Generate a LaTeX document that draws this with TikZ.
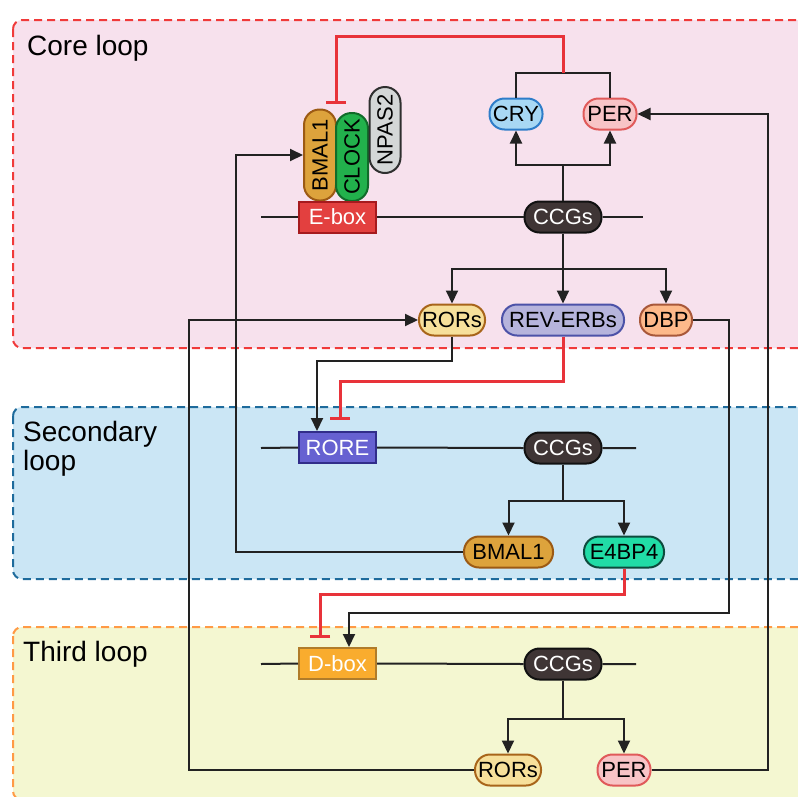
\documentclass[tikz,border=0pt]{standalone}
\usepackage{fontspec}
\setmainfont{Liberation Sans}
\usepackage{graphicx}
\usetikzlibrary{arrows.meta}

\definecolor{lineblack}{HTML}{222222}
\definecolor{inhred}{HTML}{E8333A}
\definecolor{corefill}{HTML}{F7E1ED}
\definecolor{coreedge}{HTML}{F03A3A}
\definecolor{secfill}{HTML}{CBE6F5}
\definecolor{secedge}{HTML}{1E6B9C}
\definecolor{thirdfill}{HTML}{F4F7D1}
\definecolor{thirdedge}{HTML}{FF9A45}
\definecolor{cryfill}{HTML}{A8D8F4}
\definecolor{cryedge}{HTML}{2E7DC9}
\definecolor{perfill}{HTML}{F8C4C6}
\definecolor{peredge}{HTML}{E05A5A}
\definecolor{bmalfill}{HTML}{DDA33C}
\definecolor{bmaledge}{HTML}{9C5A14}
\definecolor{clockfill}{HTML}{22B14C}
\definecolor{clockedge}{HTML}{116B2A}
\definecolor{npasfill}{HTML}{D4D7D7}
\definecolor{npasedge}{HTML}{2F2F2F}
\definecolor{eboxfill}{HTML}{E3403F}
\definecolor{eboxedge}{HTML}{A61A1E}
\definecolor{ccgfill}{HTML}{3F3535}
\definecolor{ccgedge}{HTML}{111111}
\definecolor{rorfill}{HTML}{F7E09B}
\definecolor{roredge}{HTML}{A8651A}
\definecolor{revfill}{HTML}{B6B4DC}
\definecolor{revedge}{HTML}{4C52A8}
\definecolor{dbpfill}{HTML}{FDB98A}
\definecolor{dbpedge}{HTML}{A8583A}
\definecolor{rorefill}{HTML}{6661D1}
\definecolor{roreedge}{HTML}{312D8A}
\definecolor{efourfill}{HTML}{21DCA6}
\definecolor{efouredge}{HTML}{0D4B3D}
\definecolor{dboxfill}{HTML}{F9AC2E}
\definecolor{dboxedge}{HTML}{B07C2A}

\newcommand\genefont{\fontsize{22}{24}\selectfont}
\newcommand\loopfont{\fontsize{28}{29}\selectfont}

\begin{document}
\begin{tikzpicture}[x=1pt,y=-1pt,
  conn/.style={line width=2pt, draw=lineblack},
  act/.style={conn, -{Triangle[length=13pt,width=12pt]}},
  inh/.style={line width=3pt, draw=inhred, -{Bar[width=20pt]}},
  region/.style={line width=2pt, dash pattern=on 8pt off 5pt, rounded corners=9pt},
  pill/.style={draw, line width=2pt, rounded corners=15pt, inner sep=0pt,
               minimum height=31pt, font=\genefont},
  vpill/.style={draw, line width=2pt, rounded corners=15.5pt, inner sep=0pt,
                minimum width=32pt, font=\genefont},
  site/.style={draw, line width=2pt, inner sep=0pt, minimum width=77pt,
               minimum height=31pt, font=\genefont, text=white},
  ccg/.style={pill, fill=ccgfill, draw=ccgedge, text=white, minimum width=77pt},
  looplabel/.style={inner sep=0pt, font=\loopfont, align=left}]

\useasboundingbox (0,0) rectangle (798,796);

% loop regions
\draw[region, draw=coreedge, fill=corefill] (13,20) rectangle (815,348);
\draw[region, draw=secedge, fill=secfill] (13,407) rectangle (815,579);
\draw[region, draw=thirdedge, fill=thirdfill] (13,627) rectangle (815,800);

\node[looplabel, anchor=base west] (corelbl) at (27,55) {Core loop};
\node[looplabel, anchor=north west] (seclbl) at (23,421) {Secondary\\loop};
\node[looplabel, anchor=base west] (thirdlbl) at (23,661) {Third loop};

% core loop
\node[pill, fill=cryfill, draw=cryedge, minimum width=53pt] (CRY) at (516,114) {CRY};
\node[pill, fill=perfill, draw=peredge, minimum width=53pt] (PERa) at (610,114) {PER};
\node[vpill, fill=bmalfill, draw=bmaledge, minimum height=91pt] (BMALa) at (320,155) {\rotatebox{90}{BMAL1}};
\node[vpill, fill=clockfill, draw=clockedge, minimum height=88pt] (CLOCK) at (352,157) {\rotatebox{90}{CLOCK}};
\node[vpill, fill=npasfill, draw=npasedge, minimum height=86pt, minimum width=31pt] (NPAS) at (385,130) {\rotatebox{90}{NPAS2}};
\node[site, fill=eboxfill, draw=eboxedge] (Ebox) at (337.5,217) {E-box};
\node[ccg] (CCGa) at (563,217) {CCGs};
\node[pill, fill=rorfill, draw=roredge, minimum width=66pt] (RORa) at (452,320) {RORs};
\node[pill, fill=revfill, draw=revedge, minimum width=122pt] (REV) at (563,320) {REV-ERBs};
\node[pill, fill=dbpfill, draw=dbpedge, minimum width=52pt] (DBP) at (666,320) {DBP};

% secondary loop
\node[site, fill=rorefill, draw=roreedge] (RORE) at (337.5,447.5) {RORE};
\node[ccg] (CCGb) at (563,448) {CCGs};
\node[pill, fill=bmalfill, draw=bmaledge, minimum width=89pt] (BMALb) at (508.5,552) {BMAL1};
\node[pill, fill=efourfill, draw=efouredge, minimum width=80pt] (EFOUR) at (624,552) {E4BP4};

% third loop
\node[site, fill=dboxfill, draw=dboxedge] (Dbox) at (337.5,663.5) {D-box};
\node[ccg] (CCGc) at (563,664) {CCGs};
\node[pill, fill=rorfill, draw=roredge, minimum width=66pt] (RORb) at (508,770) {RORs};
\node[pill, fill=perfill, draw=peredge, minimum width=53pt] (PERb) at (624,770) {PER};

% DNA strands
\coordinate (dnaLa) at (261,217);
\coordinate (dnaRa) at (643,217);
\coordinate (dnaLb) at (261,448);
\coordinate (dnaRb) at (636,448);
\coordinate (dnaLc) at (261,664);
\coordinate (dnaRc) at (636,664);
\draw[conn] (dnaLa) -- (Ebox.west) (Ebox.east) -- (CCGa.west) (CCGa.east) -- (dnaRa);
\draw[conn] (dnaLb) -- (RORE.west) (RORE.east) -- (CCGb.west) (CCGb.east) -- (dnaRb);
\draw[conn] (dnaLc) -- (Dbox.west) (Dbox.east) -- (CCGc.west) (CCGc.east) -- (dnaRc);

% bend points
\coordinate (crypair) at (563,73);
\coordinate (crytop) at (563,36);
\coordinate (ebind) at (336,104);
\coordinate (splitA) at (563,165);
\coordinate (splitB) at (563,269);
\coordinate (splitC) at (563,501);
\coordinate (splitD) at (563,719);
\coordinate (perback) at (768,114);
\coordinate (bmalback) at (236,155);
\coordinate (rorback) at (189,320);
\coordinate (rorebend) at (317,361);
\coordinate (revbend) at (340,381);
\coordinate (revbar) at (340,420);
\coordinate (efourbend) at (320,594);
\coordinate (efourbar) at (320,638);
\coordinate (dbpbend) at (729,613);
\coordinate (dboxin) at (349,613);

% core loop connectors
\draw[conn] (CRY.north) |- (crypair) -| (PERa.north);
\draw[inh] (crypair) -- (crytop) -| (ebind);
\draw[conn] (CCGa.north) -- (splitA);
\draw[act] (splitA) -| (CRY.south);
\draw[act] (splitA) -| (PERa.south);
\draw[act] (CCGa.south) -- (REV.north);
\draw[act] (splitB) -| (RORa.north);
\draw[act] (splitB) -| (DBP.north);

% secondary loop connectors
\draw[act] (RORa.south) |- (rorebend) -- (rorebend |- RORE.north);
\draw[inh] (REV.south) |- (revbend) -- (revbar);
\draw[conn] (CCGb.south) -- (splitC);
\draw[act] (splitC) -| (BMALb.north);
\draw[act] (splitC) -| (EFOUR.north);
\draw[act] (BMALb.west) -| (bmalback) -- (BMALa.west);

% third loop connectors
\draw[inh] (EFOUR.south) |- (efourbend) -- (efourbar);
\draw[act] (DBP.east) -| (dbpbend) -- (dboxin) -- (dboxin |- Dbox.north);
\draw[conn] (CCGc.south) -- (splitD);
\draw[act] (splitD) -| (RORb.north);
\draw[act] (splitD) -| (PERb.north);
\draw[act] (RORb.west) -| (rorback) -- (RORa.west);
\draw[act] (PERb.east) -| (perback) -- (PERa.east);

\end{tikzpicture}
\end{document}
